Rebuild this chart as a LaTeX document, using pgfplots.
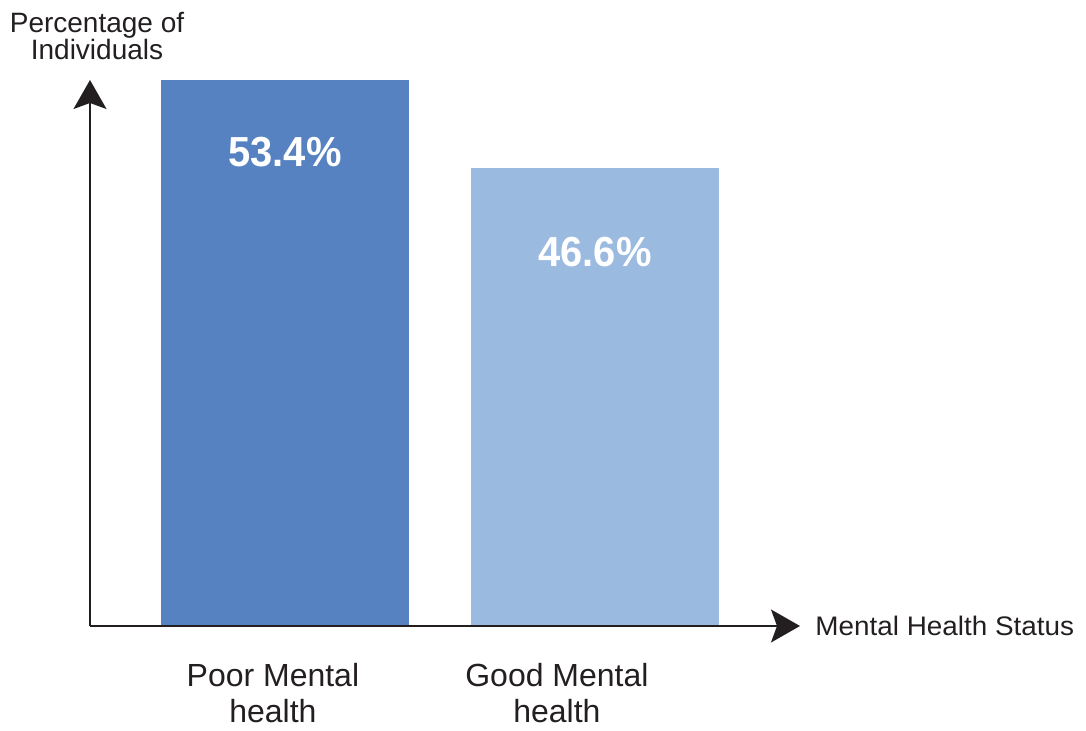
\documentclass[border=0pt]{standalone}
\usepackage{pgfplots}
\pgfplotsset{compat=1.18}
\usepackage{fontspec}
\setmainfont{Liberation Sans}
\newfontfamily\statfont[FakeStretch=1.04]{Liberation Sans}
\newfontfamily\valfont[FakeStretch=0.95]{Liberation Sans}
\usetikzlibrary{arrows.meta}
\definecolor{darkbar}{HTML}{5682C1}
\definecolor{lightbar}{HTML}{9BBAE0}
\definecolor{ink}{HTML}{231F20}
\begin{document}
\begin{tikzpicture}
\begin{axis}[
  scale only axis,
  width=355pt, height=273pt,
  xmin=-0.629, xmax=1.661,
  ymin=11.2, ymax=53.4,
  axis lines=left,
  axis on top,
  axis line style={draw=ink, line width=0.8pt, -{Stealth[length=14.5pt,width=16.5pt,inset=3pt]}},
  ytick=\empty,
  xtick={-0.039,0.877},
  xticklabels={{Poor Mental\\health},{Good Mental\\health}},
  major tick length=0pt,
  xticklabel style={anchor=north, inner sep=0pt, yshift=-18.5pt, align=center,
    font=\fontsize{16}{18}\selectfont, text=ink},
  xlabel={Mental Health Status},
  xlabel style={at={(rel axis cs:1,0)}, anchor=west, xshift=7.5pt, inner sep=0pt,
    font=\statfont\fontsize{13.4}{15}\selectfont, text=ink},
  ylabel={Percentage of\\Individuals},
  ylabel style={rotate=-90, at={(rel axis cs:0,1)}, anchor=south, inner sep=0pt,
    yshift=10pt, xshift=3.5pt, align=center,
    font=\fontsize{14}{13.5}\selectfont, text=ink},
  ybar, bar width=124pt,
]
\addplot[ybar, bar shift=0pt, fill=darkbar, draw=none] coordinates {(0,53.4)};
\addplot[ybar, bar shift=0pt, fill=lightbar, draw=none] coordinates {(1,46.6)};
\node[text=white, font=\valfont\bfseries\fontsize{21}{24}\selectfont] at (axis cs:0,47.84) {53.4\%};
\node[text=white, font=\valfont\bfseries\fontsize{21}{24}\selectfont] at (axis cs:1,40.07) {46.6\%};
\coordinate (O) at (rel axis cs:0,0);
\end{axis}
\pgfresetboundingbox
\path (O) ++(-45pt,-52.5pt) rectangle ++(543pt,365.5pt);
\end{tikzpicture}
\end{document}
